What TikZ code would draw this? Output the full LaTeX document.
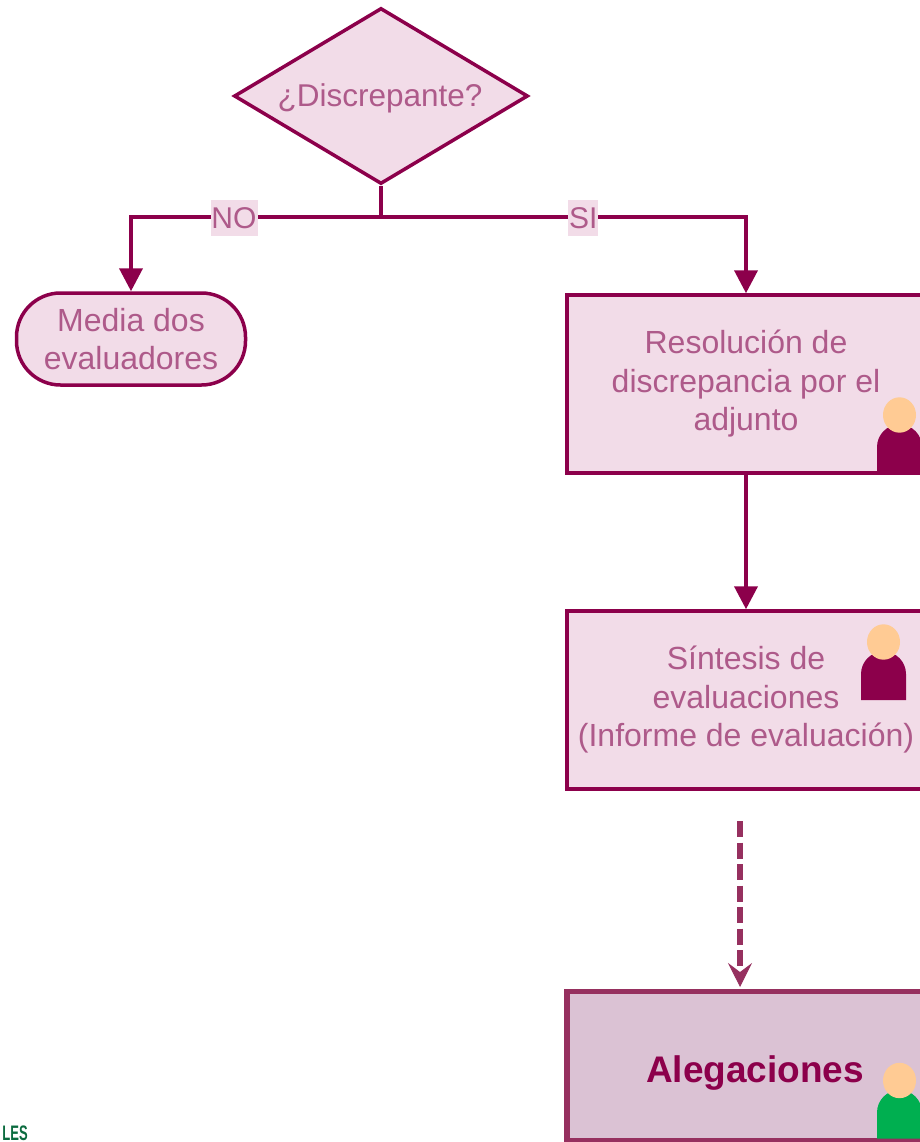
\documentclass[tikz,border=0pt]{standalone}
\usepackage{fontspec}
\usepackage{graphicx}
\setmainfont{Liberation Sans}
\usetikzlibrary{arrows.meta,shapes.geometric}
\definecolor{vino}{HTML}{8C004B}
\definecolor{vinoclaro}{HTML}{96305F}
\definecolor{rosa}{HTML}{F2DCE8}
\definecolor{malva}{HTML}{DBC2D4}
\definecolor{letra}{HTML}{AE5A8A}
\definecolor{piel}{HTML}{FFCB94}
\definecolor{verde}{HTML}{00AF50}
\definecolor{verdelogo}{HTML}{0B6B3F}
\newcommand{\persona}[3]{
    \fill[#3] (#1-22.5,#2+58) -- (#1-22.5,#2+32) arc (180:360:22.5) -- (#1+22.5,#2+58) -- cycle;
    \fill[piel] (#1,#2) ellipse (16.5 and 17.7);
}
\tikzset{
    caja/.style={draw=vino,line width=3.5pt,fill=rosa,text=letra,minimum width=358pt,minimum height=178pt,align=center,inner sep=0pt,font=\fontsize{32}{38.5}\selectfont},
    flujo/.style={draw=vino,line width=4pt},
    etiqueta/.style={fill=rosa,text=letra,inner xsep=1pt,inner ysep=7pt,yshift=-1pt,font=\fontsize{30}{36}\selectfont}
}
\begin{document}
\begin{tikzpicture}[line cap=butt,line join=miter,>={Triangle[width=23pt,length=23pt]},x=1pt,y=-1pt]
    \useasboundingbox (0,0) rectangle (919,1142);
    \node[diamond,draw=vino,line width=3.5pt,fill=rosa,inner sep=0pt,aspect=1.67,minimum width=294pt,minimum height=176pt] (discrepante) at (381,96) {};
    \node[text=letra,font=\fontsize{31.5}{36}\selectfont] (disctexto) at (380,98) {¿Discrepante?};
    \node[draw=vino,line width=3.5pt,fill=rosa,text=letra,rounded corners=44pt,minimum width=229pt,minimum height=92pt,align=center,inner sep=0pt,font=\fontsize{32}{38.5}\selectfont] (media) at (131,339) {Media dos\\evaluadores};
    \node[caja] (resolucion) at (746,384) {Resolución de\\discrepancia por el\\adjunto};
    \node[caja] (sintesis) at (746,700) {Síntesis de\\evaluaciones\\(Informe de evaluación)};
    \node[draw=vinoclaro,line width=5.5pt,fill=malva,minimum width=362pt,minimum height=149pt,inner sep=0pt] (alegaciones) at (748,1066) {};
    \node[text=vino,font=\fontsize{37}{40}\selectfont\bfseries] (alegtexto) at (755,1073) {Alegaciones};
    \node[anchor=south east,text=verdelogo,inner sep=0pt,font=\fontsize{21}{24}\selectfont\bfseries] (logo) at (28,1141) {\scalebox{0.62}[1]{LES}};
    \coordinate (cruce) at (discrepante.south |- 0,217);
    \coordinate (dashini) at (740,821);
    \coordinate (dashfin) at (740,987);
    \draw[flujo] (discrepante.south) -- (cruce);
    \draw[flujo,->] (cruce) -| node[etiqueta,pos=0.294] (no) {NO} (media.north);
    \draw[flujo,->] (cruce) -| node[etiqueta,pos=0.277] (si) {SI} (resolucion.north);
    \draw[flujo,->] (resolucion.south) -- (sintesis.north);
    \draw[draw=vinoclaro,line width=5.5pt,dash pattern=on 16pt off 5.5pt,-{Stealth[width=24pt,length=24pt,inset=9pt,line width=1pt]}] (dashini) -- (dashfin);
    \persona{899.5}{415}{vino}
    \persona{883.5}{642}{vino}
    \persona{899.5}{1080.5}{verde}
\end{tikzpicture}
\end{document}
